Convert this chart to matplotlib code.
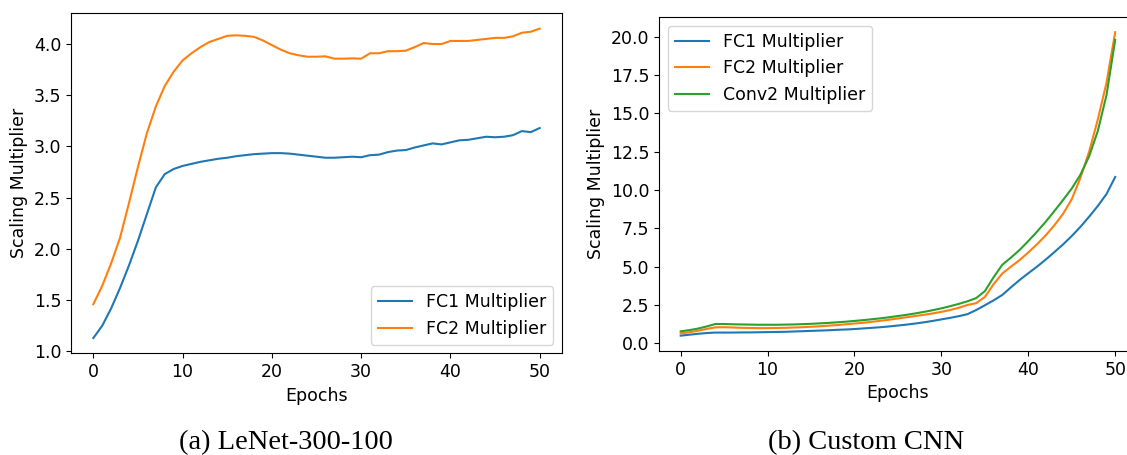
import numpy as np
import matplotlib
matplotlib.use('Agg')
import matplotlib.pyplot as plt

epochs = np.arange(51)

# LeNet-300-100 multipliers
lenet_fc1 = [1.13, 1.25, 1.42, 1.62, 1.84, 2.08, 2.34, 2.60, 2.73, 2.78,
             2.81, 2.83, 2.85, 2.865, 2.88, 2.89, 2.905, 2.915, 2.925, 2.93,
             2.935, 2.935, 2.93, 2.92, 2.91, 2.90, 2.89, 2.89, 2.895, 2.90,
             2.895, 2.915, 2.92, 2.945, 2.96, 2.965, 2.99, 3.01, 3.03, 3.02,
             3.04, 3.06, 3.065, 3.08, 3.095, 3.09, 3.095, 3.11, 3.15, 3.14,
             3.18]
lenet_fc2 = [1.46, 1.64, 1.86, 2.11, 2.45, 2.80, 3.13, 3.39, 3.59, 3.73,
             3.84, 3.91, 3.97, 4.02, 4.05, 4.08, 4.085, 4.08, 4.07, 4.035,
             3.99, 3.945, 3.91, 3.89, 3.876, 3.876, 3.88, 3.857, 3.857, 3.86,
             3.857, 3.91, 3.91, 3.93, 3.93, 3.935, 3.97, 4.01, 4.00, 4.00,
             4.03, 4.03, 4.03, 4.04, 4.05, 4.06, 4.06, 4.075, 4.11, 4.12,
             4.15]

# Custom CNN multipliers
cnn_fc1 = [0.50, 0.56, 0.62, 0.67, 0.70, 0.70, 0.70, 0.71, 0.71, 0.72,
           0.73, 0.74, 0.75, 0.77, 0.79, 0.81, 0.83, 0.85, 0.88, 0.90,
           0.93, 0.97, 1.01, 1.05, 1.10, 1.16, 1.22, 1.29, 1.37, 1.46,
           1.56, 1.66, 1.77, 1.90, 2.17, 2.48, 2.80, 3.15, 3.65, 4.13,
           4.57, 5.00, 5.46, 5.95, 6.45, 7.00, 7.60, 8.26, 8.96, 9.74,
           10.85]
cnn_fc2 = [0.65, 0.72, 0.82, 0.94, 1.04, 1.05, 1.03, 1.01, 1.00, 0.99,
           0.99, 1.00, 1.01, 1.03, 1.05, 1.08, 1.11, 1.15, 1.19, 1.24,
           1.29, 1.34, 1.40, 1.47, 1.54, 1.62, 1.70, 1.78, 1.86, 1.95,
           2.05, 2.17, 2.32, 2.50, 2.62, 3.02, 3.85, 4.55, 5.00, 5.43,
           5.93, 6.46, 7.04, 7.70, 8.45, 9.40, 10.80, 12.50, 14.60, 17.00,
           20.30]
cnn_conv2 = [0.78, 0.86, 0.96, 1.10, 1.26, 1.26, 1.24, 1.23, 1.22, 1.21,
             1.21, 1.21, 1.22, 1.23, 1.25, 1.27, 1.30, 1.33, 1.37, 1.41,
             1.46, 1.51, 1.57, 1.63, 1.70, 1.78, 1.86, 1.95, 2.05, 2.16,
             2.28, 2.42, 2.57, 2.74, 2.95, 3.40, 4.30, 5.12, 5.59, 6.09,
             6.67, 7.28, 7.93, 8.63, 9.35, 10.10, 11.00, 12.20, 13.85, 16.20,
             19.80]

fs = 12.5
plt.rcParams['font.size'] = fs

fig = plt.figure(figsize=(11.27, 4.55), dpi=100)

ax1 = fig.add_axes([0.0630, 0.2231, 0.4357, 0.7479])
ax1.plot(epochs, lenet_fc1, color='#1f77b4', lw=1.5, label='FC1 Multiplier')
ax1.plot(epochs, lenet_fc2, color='#ff7f0e', lw=1.5, label='FC2 Multiplier')
ax1.set_xlabel('Epochs', fontsize=fs)
ax1.set_ylabel('Scaling Multiplier', fontsize=fs)
ax1.set_yticks([1.0, 1.5, 2.0, 2.5, 3.0, 3.5, 4.0])
ax1.tick_params(labelsize=fs)
ax1.legend(loc='lower right', fontsize=fs)

ax2 = fig.add_axes([0.5847, 0.2290, 0.4241, 0.7336])
ax2.plot(epochs, cnn_fc1, color='#1f77b4', lw=1.5, label='FC1 Multiplier')
ax2.plot(epochs, cnn_fc2, color='#ff7f0e', lw=1.5, label='FC2 Multiplier')
ax2.plot(epochs, cnn_conv2, color='#2ca02c', lw=1.5, label='Conv2 Multiplier')
ax2.set_xlabel('Epochs', fontsize=fs)
ax2.set_ylabel('Scaling Multiplier', fontsize=fs)
ax2.set_yticks([0.0, 2.5, 5.0, 7.5, 10.0, 12.5, 15.0, 17.5, 20.0])
ax2.tick_params(labelsize=fs)
ax2.legend(loc='upper left', fontsize=fs)

# sub-figure captions
cap = dict(family='Liberation Serif', fontsize=20.5, ha='center', va='baseline')
fig.text(286 / 1127, 1 - 449 / 455, '(a) LeNet-300-100', **cap)
fig.text(866 / 1127, 1 - 449 / 455, '(b) Custom CNN', **cap)

fig.savefig('out.png', dpi=100)
